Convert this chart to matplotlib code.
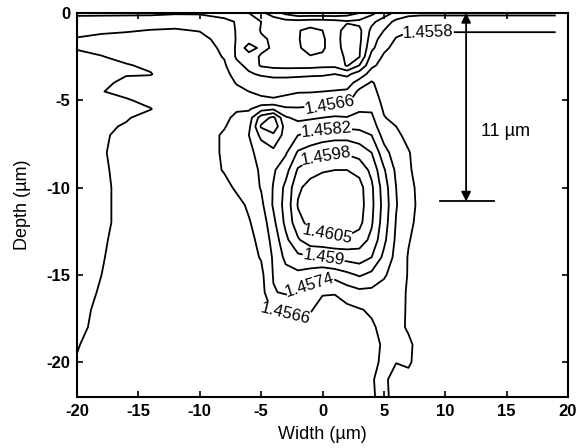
import numpy as np
import matplotlib
matplotlib.use('Agg')
import matplotlib.pyplot as plt

plt.rcParams['font.family'] = ['Liberation Sans', 'DejaVu Sans']
plt.rcParams['axes.unicode_minus'] = False

# grid of the index map (um)
width_um = [-20, -18, -16, -14, -12, -10, -8, -7, -6, -5, -4, -3, -2, -1,
            0, 1, 2, 3, 4, 5, 6, 7, 8, 10, 12, 14, 16, 18, 19]
depth_um = [0, -0.5, -1, -1.5, -2, -2.5, -3, -3.5, -4, -4.5, -5, -5.5, -6,
            -6.5, -7, -8, -9, -10, -11, -12, -13, -14, -15, -16, -17, -18,
            -19, -20, -21, -22]

# index, in units of 1e-4 above n_base (one row per depth)
n_base = 1.4550
dn_rows = [
    [-2, -2, -2, -2, -1, -1, -3, -5, -8, -14, -20, -26, -30, -30, -30, -30, -28, -24, -18, -12, -6, -3, -2, -2, -2, -2, -2, -2, -2],
    [4, 4.5, 5, 5.5, 6, 5, 2, -0.5, -3, -8, -11, -13, -13, -12, -12, -13, -15, -14, -10, -4, 2, 5, 5, 5, 5, 5, 5, 5, 5],
    [6, 7, 7.5, 8.2, 8.5, 7.7, 4, -0.5, -3, -8.5, -10, -9, -8.5, -6, -8, -12, -20, -18, -6, 0, 6, 7.5, 7.5, 7.5, 7.5, 7.5, 7.5, 7.5, 7.5],
    [8.5, 9.5, 10, 10.5, 11, 10, 5.5, -0.5, -4, -7, -9, -9.5, -8.5, -5, -7, -12, -21, -18, -4, 4, 8.5, 10, 10, 10, 10, 10, 10, 10, 10],
    [8.3, 9.5, 11, 11.5, 12, 11.5, 6.5, -1, -12, -6, -9, -10, -9, -5, -7, -12, -20, -17, -2, 6.5, 10, 11.5, 11.5, 11.5, 11.5, 11.5, 11.5, 11.5, 11.5],
    [7, 7.8, 9.5, 11, 12, 12, 7.5, -1, -4, -9, -10.5, -11, -10, -8.5, -9, -11, -18, -16.5, 3, 9, 11, 12, 12, 12, 12, 12, 12, 12, 12],
    [6, 6.5, 7.6, 9, 12, 12, 9, 2, -2, -9, -10.5, -11, -11, -11, -10, -10, -17, -8, 6.5, 10.5, 11.5, 12, 12, 12, 12, 12, 12, 12, 12],
    [6, 6.5, 7.7, 7.7, 12, 12, 10.5, 5, 1, -1, -2, -2, -1.5, -1, -1, 0, -2, 4, 11, 11.5, 12, 12, 12, 12, 12, 12, 12, 12, 12],
    [6, 7, 9, 10, 12, 12, 11.5, 7.5, 5.5, 4, 3, 3, 3, 3, 4, 4.5, 5, 11, 17, 11.5, 12, 12, 12, 12, 12, 12, 12, 12, 12],
    [6, 7.8, 9.5, 11, 12, 12, 12, 10, 8, 6.5, 5.5, 6.5, 7.5, 7.5, 8, 8.5, 9, 18, 19, 12, 12, 12, 12, 12, 12, 12, 12, 12, 12],
    [6, 7, 7.5, 9.5, 12, 12, 12, 12, 11, 9.5, 9, 10, 11, 12, 13, 13.5, 14, 20.5, 21, 13.5, 12.5, 12, 12, 12, 12, 12, 12, 12, 12],
    [6, 6.5, 7, 7.8, 12, 12, 13, 15, 15, 21, 23, 17.5, 17, 17.5, 18, 19, 18.5, 23, 23, 15, 13, 12.5, 12, 12, 12, 12, 12, 12, 12],
    [6, 6.5, 7.5, 10, 12, 12, 14, 18, 20, 36, 42, 25, 22, 23, 24, 25, 24.5, 26, 25.5, 16.5, 13.5, 12, 12, 12, 12, 12, 12, 12, 12],
    [6, 7, 8.5, 11.5, 12, 12, 15.5, 19, 22, 41, 47, 28, 27, 28, 29, 30, 30, 30, 28, 18.5, 16, 12.5, 12, 12, 12, 12, 12, 12, 12],
    [6, 7.2, 9.5, 12, 12, 12, 17, 20, 24, 34, 38, 29, 32, 34, 36, 37, 37, 35, 32, 21, 17.5, 14, 12.5, 12, 12, 12, 12, 12, 12],
    [6, 7.6, 9.5, 12, 12, 12, 17, 20, 22, 27, 30, 31, 41, 44, 46, 47, 47, 45, 40, 27, 20, 16.5, 12.5, 12, 12, 12, 12, 12, 12],
    [6, 7.3, 9.5, 12, 12, 12, 16.5, 19, 21, 25, 31, 37, 49, 53, 54.5, 55, 55, 53, 46, 33, 22.5, 17, 13, 12, 12, 12, 12, 12, 12],
    [6, 7, 9.5, 12, 12, 12, 14, 17, 20, 24.5, 32.5, 42, 54, 57, 58, 58.5, 58.5, 57.5, 49.5, 36, 24, 18, 14, 12, 12, 12, 12, 12, 12],
    [6, 7, 9.5, 12, 12, 12, 12.5, 14, 17, 22, 33, 43, 55.5, 58, 59, 59, 59, 58, 50, 37, 24.5, 18, 14.5, 12, 12, 12, 12, 12, 12],
    [6, 7, 9.5, 12, 12, 12, 12, 12.5, 15.5, 19, 30, 42, 53, 57, 58, 58.5, 58.5, 57, 49, 36, 23.5, 17.5, 14, 12, 12, 12, 12, 12, 12],
    [6, 7.3, 10, 12, 12, 12, 12, 12, 14.5, 17.5, 27, 38, 47, 53, 53.5, 54, 54, 52, 46, 34, 22.5, 16.5, 13, 12, 12, 12, 12, 12, 12],
    [6, 7.6, 10.5, 12, 12, 12, 12, 12, 13.5, 16.5, 25, 34, 38, 39, 40, 42, 43, 44, 40, 30, 21.5, 15.5, 12.5, 12, 12, 12, 12, 12, 12],
    [6, 8, 11, 12, 12, 12, 12, 12, 12.5, 14, 24.5, 29, 30, 28, 26, 27, 30, 33, 30, 25, 20.5, 15.5, 12, 12, 12, 12, 12, 12, 12],
    [6, 8.5, 11.5, 12, 12, 12, 12, 12, 12, 13, 23.5, 25, 24.5, 21, 17, 16.5, 20, 22, 22, 21, 19.5, 15, 12, 12, 12, 12, 12, 12, 12],
    [6, 9.5, 12, 12, 12, 12, 12, 12, 12, 12, 17, 17, 17, 17, 12, 13, 14, 15.5, 17, 19, 19, 15, 12, 12, 12, 12, 12, 12, 12],
    [6, 10.5, 12, 12, 12, 12, 12, 12, 12, 12, 13, 12.5, 13, 12, 11.5, 12, 12, 12.5, 15, 18, 18.5, 15, 12, 12, 12, 12, 12, 12, 12],
    [7.5, 11.5, 12, 12, 12, 12, 12, 12, 12, 12, 12, 12, 12, 12, 12, 12, 12, 12, 12.5, 17.5, 18, 17.5, 13, 12, 12, 12, 12, 12, 12],
    [8.5, 12, 12, 12, 12, 12, 12, 12, 12, 12, 12, 12, 12, 12, 12, 12, 12, 12, 14, 17.5, 16.3, 17, 13, 12, 12, 12, 12, 12, 12],
    [10.5, 12, 12, 12, 12, 12, 12, 12, 12, 12, 12, 12, 12, 12, 12, 12, 12, 12, 15.5, 18, 12, 14, 12, 12, 12, 12, 12, 12, 12],
    [12, 12, 12, 12, 12, 12, 12, 12, 12, 12, 12, 12, 12, 12, 12, 12, 12, 12, 15.2, 18, 13, 11, 11, 12, 12, 12, 12, 12, 12],
]

levels = [1.4526, 1.4534, 1.4542, 1.4550, 1.4558, 1.4566, 1.4574,
          1.4582, 1.4590, 1.4598, 1.4605]
# where each labelled level carries its label
label_xy = {
    1.4558: [(8.6, -1.1)],
    1.4566: [(0.6, -5.2), (-3.0, -17.3)],
    1.4574: [(-1.0, -15.6)],
    1.4582: [(0.3, -6.6)],
    1.4590: [(0.1, -14.0)],
    1.4598: [(0.4, -8.6)],
    1.4605: [(0.4, -12.6)],
}

# 11 um depth marker
marker_x = 11.7
marker_depth = -10.8
marker_bar = (9.6, 14.0)

n_map = n_base + np.array(dn_rows) * 1e-4

fig = plt.figure(figsize=(5.79, 4.48), dpi=100)
ax = fig.add_axes([0.133, 0.114, 0.848, 0.857])


def fmt(v):
    return ('%.4f' % v).rstrip('0')


for lv in levels:
    cs = ax.contour(width_um, depth_um, n_map, levels=[lv],
                    colors='k', linewidths=1.3)
    if lv in label_xy:
        ax.clabel(cs, manual=label_xy[lv], fmt=fmt, fontsize=12,
                  inline=True, inline_spacing=1)

# depth marker
ax.annotate('', xy=(marker_x, 0), xytext=(marker_x, marker_depth),
            arrowprops=dict(arrowstyle='<|-|>', color='k', lw=1.3,
                            mutation_scale=14, shrinkA=0, shrinkB=0))
ax.plot(marker_bar, [marker_depth, marker_depth], color='k', lw=1.3)
ax.text(14.9, -6.8, '11 µm', fontsize=13, ha='center', va='center')

ax.set_xlim(-20, 20)
ax.set_ylim(-22, 0)
ax.set_xticks([-20, -15, -10, -5, 0, 5, 10, 15, 20])
ax.set_yticks([-20, -15, -10, -5, 0])
ax.tick_params(direction='in', length=4, width=1.2, top=True, right=True,
               labelsize=12, pad=5)
for lbl in ax.get_xticklabels() + ax.get_yticklabels():
    lbl.set_fontweight('bold')
for sp in ax.spines.values():
    sp.set_linewidth(1.5)

ax.set_xlabel('Width (µm)', fontsize=13, labelpad=5)
ax.set_ylabel('Depth (µm)', fontsize=13, labelpad=11)

fig.savefig('out.png', dpi=100)
